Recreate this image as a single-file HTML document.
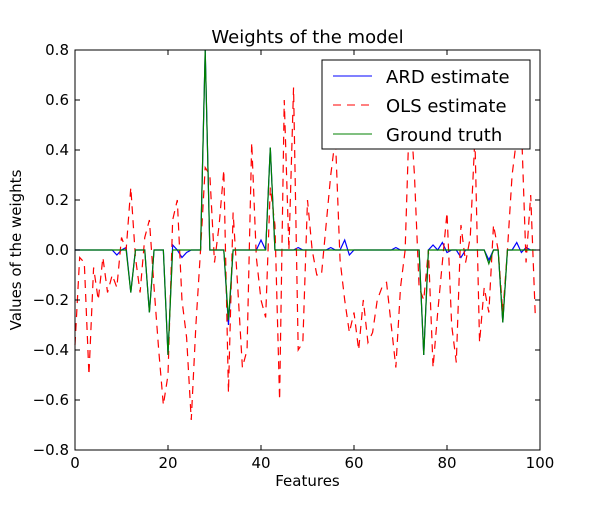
<!DOCTYPE html>
<html><head><meta charset="utf-8"><style>
body{margin:0;background:#fff;font-family:"Liberation Sans","DejaVu Sans",sans-serif}
svg text{font-family:"DejaVu Sans","Liberation Sans",sans-serif}
</style></head><body>
<svg id="chart" width="600" height="500" xmlns="http://www.w3.org/2000/svg">
<rect width="600" height="500" fill="#fff"/>
<text x="307.5" y="43" font-size="18" text-anchor="middle">Weights of the model</text>
<text x="307.5" y="486" font-size="15" text-anchor="middle">Features</text>
<text x="21" y="250" font-size="15" text-anchor="middle" transform="rotate(-90 21 250)">Values of the weights</text>
<g id="series"></g>
<rect x="75" y="50" width="465" height="400" fill="none" stroke="#000" stroke-width="1"/>
<g id="ticks"></g>
<g>
<rect x="322" y="60" width="208" height="89" fill="#fff" stroke="#000" stroke-width="1"/>
<line x1="333" y1="76" x2="372" y2="76" stroke="#0000ff" stroke-width="1"/>
<text x="386" y="83" font-size="18">ARD estimate</text>
<line x1="333" y1="105" x2="372" y2="105" stroke="#ff0000" stroke-width="1" stroke-dasharray="8,6"/>
<text x="386" y="112" font-size="18">OLS estimate</text>
<line x1="333" y1="134" x2="372" y2="134" stroke="#008000" stroke-width="1"/>
<text x="386" y="141" font-size="18">Ground truth</text>
</g>
</svg>
<script>
const xTicks=[0,20,40,60,80,100];
const yTicks=[-0.8,-0.6,-0.4,-0.2,0.0,0.2,0.4,0.6,0.8];
const olsValues=[-0.38,-0.03,-0.05,-0.5,-0.07,-0.2,-0.03,-0.17,-0.1,-0.15,0.05,0.0,0.25,-0.03,-0.17,0.05,0.12,-0.15,-0.4,-0.62,-0.5,0.12,0.2,-0.2,-0.35,-0.68,-0.3,0.0,0.33,0.3,-0.05,0.1,0.32,-0.57,0.15,-0.15,-0.47,-0.4,0.43,-0.03,-0.2,-0.27,0.25,0.1,-0.6,0.6,0.0,0.65,-0.4,-0.37,0.2,0.0,-0.1,-0.1,0.1,0.3,0.45,-0.04,-0.2,-0.33,-0.25,-0.4,-0.2,-0.37,-0.33,-0.2,-0.15,-0.13,-0.3,-0.47,-0.15,0.0,0.6,0.3,-0.15,-0.2,0.0,-0.47,-0.25,-0.05,0.15,-0.3,-0.45,0.1,-0.05,0.05,0.45,-0.37,-0.15,-0.25,0.1,0.0,-0.25,0.0,0.3,0.45,0.5,-0.05,0.22,-0.27];
const truthIdx=[12,16,20,28,33,42,75,89,92];
const truthVals=[-0.17,-0.25,-0.42,0.8,-0.28,0.41,-0.42,-0.055,-0.29];
const ardIdx=[9,10,11,12,16,20,21,22,23,24,25,28,33,36,40,41,42,43,48,55,58,59,69,75,77,78,79,80,83,89,92,94,95,96,97];
const ardVals=[-0.02,0.0,0.01,-0.17,-0.25,-0.42,0.02,0.0,-0.03,-0.01,0.0,0.8,-0.3,0.0,0.04,0.0,0.41,0.0,0.01,0.01,0.04,-0.02,0.01,-0.42,0.02,0.0,0.03,-0.01,-0.03,-0.04,-0.29,0.0,0.03,-0.01,0.01];
const N=100;
const X=v=>75+v*4.65, Y=v=>250-v*250;
const NS="http://www.w3.org/2000/svg";
const tg=document.getElementById('ticks');
xTicks.forEach(t=>{
  const l=document.createElementNS(NS,'path');
  l.setAttribute('d',`M${X(t)},450v-5M${X(t)},50v5`);l.setAttribute('stroke','#000');
  
  
  tg.appendChild(l);
  const s=document.createElementNS(NS,'text');
  s.setAttribute('x',X(t));s.setAttribute('y',468);s.setAttribute('font-size','15');s.setAttribute('text-anchor','middle');s.textContent=t;
  
  
  tg.appendChild(s);
});
yTicks.forEach(t=>{
  const l=document.createElementNS(NS,'path');
  l.setAttribute('d',`M75,${Y(t)}h5M540,${Y(t)}h-5`);l.setAttribute('stroke','#000');
  
  
  tg.appendChild(l);
  const s=document.createElementNS(NS,'text');
  s.setAttribute('x',69);s.setAttribute('y',Y(t)+5);s.setAttribute('font-size','15');s.setAttribute('text-anchor','end');
  s.textContent=(t<0?'\u2212':'')+Math.abs(t).toFixed(1);
  
  
  tg.appendChild(s);
});
function full(idx,vals){const a=new Array(N).fill(0);idx.forEach((i,k)=>a[i]=vals[k]);return a;}
function line(arr,color,dash,name){
  const p=document.createElementNS(NS,'polyline');
  p.setAttribute('points',arr.map((v,i)=>X(i)+','+Y(v)).join(' '));
  p.setAttribute('fill','none');p.setAttribute('stroke',color);p.setAttribute('stroke-width','1.2');
  if(dash)p.setAttribute('stroke-dasharray',dash);
  
  
  document.getElementById('series').appendChild(p);
}
line(full(ardIdx,ardVals),'#0000ff',null,'ard-line');
line(olsValues,'#ff0000','8,6','ols-line');
line(full(truthIdx,truthVals),'#008000',null,'ground-truth-line');
</script>
</body></html>
